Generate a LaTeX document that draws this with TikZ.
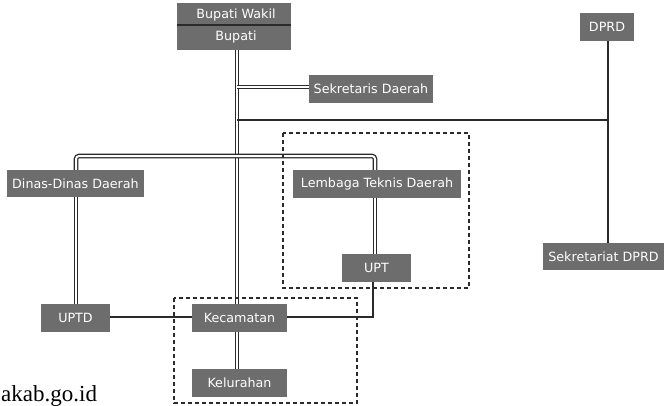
\documentclass[tikz,border=0pt]{standalone}
\usepackage{fontspec}
\setmainfont{DejaVu Sans}
\newfontfamily\wmfont{Liberation Serif}
\definecolor{boxgray}{HTML}{6D6D6D}
\definecolor{linedark}{HTML}{2A2A2A}
\begin{document}
\begin{tikzpicture}[x=1pt,y=-1pt,
  orgbox/.style={fill=boxgray, text=white, inner sep=0pt, font=\fontsize{12.7}{15}\selectfont},
  dbl/.style={draw=linedark, line width=1.3pt, double=white, double distance=2pt},
  sgl/.style={draw=linedark, line width=1.4pt},
  grp/.style={draw=linedark, line width=1.4pt, dash pattern=on 4pt off 3pt}]
\useasboundingbox (0,0) rectangle (664,405);
% nodes
\node[orgbox, minimum width=114pt, minimum height=47pt] (bup) at (234,26.5) {};
\node[text=white, inner sep=0pt, font=\fontsize{12.7}{15}\selectfont] (bupw) at (236,15) {Bupati Wakil};
\node[text=white, inner sep=0pt, font=\fontsize{12.7}{15}\selectfont] (bupb) at (236,37) {Bupati};
\draw[linedark, line width=1.2pt] (bup.west |- 0,25) coordinate (dl) -- (bup.east |- 0,25) coordinate (dr);
\node[orgbox, minimum width=124pt, minimum height=28pt] (sek) at (371,89) {Sekretaris Daerah};
\node[orgbox, minimum width=54pt, minimum height=28pt] (dprd) at (607,27) {DPRD};
\node[orgbox, minimum width=121pt, minimum height=27pt] (sdprd) at (603.5,256.5) {Sekretariat DPRD};
\node[orgbox, minimum width=137pt, minimum height=27pt] (dinas) at (75.5,183.5) {Dinas-Dinas Daerah};
\node[orgbox, minimum width=168pt, minimum height=28pt] (ltd) at (377,184) {Lembaga Teknis Daerah};
\node[orgbox, minimum width=69pt, minimum height=28pt] (upt) at (376.5,268) {UPT};
\node[orgbox, minimum width=69pt, minimum height=28pt] (uptd) at (75.5,318) {UPTD};
\node[orgbox, minimum width=95pt, minimum height=28pt] (kec) at (239.5,318) {Kecamatan};
\node[orgbox, minimum width=95pt, minimum height=28pt] (kel) at (239.5,383) {Kelurahan};
% coordinates
\coordinate (j1) at (237,87);
\coordinate (j2) at (237,120);
\coordinate (j3) at (608,120);
% connectors
\draw[dbl] (237,0 |- bup.south) -- (237,0 |- kec.north);
\draw[dbl] (237,0 |- kec.south) -- (237,0 |- kel.north);
\draw[dbl] (j1) -- (sek.west |- j1);
\draw[sgl] (j2) -- (j3);
\draw[sgl] (608,0 |- dprd.south) -- (608,0 |- sdprd.north);
\draw[dbl, rounded corners=3pt] (76,0 |- dinas.north) -- (76,156) -- (375,156) -- (375,0 |- ltd.north);
\draw[dbl] (375,0 |- ltd.south) -- (375,0 |- upt.north);
\draw[dbl] (76,0 |- dinas.south) -- (76,0 |- uptd.north);
\draw[sgl] (uptd.east |- 0,317) -- (kec.west |- 0,317);
\draw[sgl] (373,0 |- upt.south) -- (373,317) -- (kec.east |- 0,317);
% groups
\draw[grp] (283,133) rectangle (469,288);
\draw[grp] (174,298) rectangle (357,403);
% watermark
\node[anchor=base west, inner sep=0pt, font=\wmfont\fontsize{23}{26}\selectfont, text=black] (wm) at (1,401) {akab.go.id};
\end{tikzpicture}
\end{document}
